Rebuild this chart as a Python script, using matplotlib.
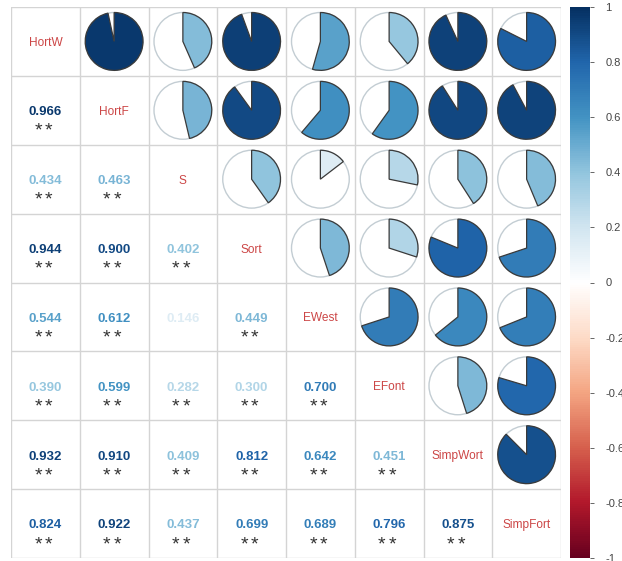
import numpy as np
import matplotlib
matplotlib.use("Agg")
import matplotlib.pyplot as plt
from matplotlib.colors import LinearSegmentedColormap, Normalize
from matplotlib.patches import Wedge, Circle
from matplotlib.cm import ScalarMappable

plt.rcParams["font.family"] = ["Liberation Sans", "DejaVu Sans"]

# variables
labels = ["HortW", "HortF", "S", "Sort", "EWest", "EFont", "SimpWort", "SimpFort"]

# lower triangle of the correlation matrix, row by row
r_hortf = [0.966]
r_s = [0.434, 0.463]
r_sort = [0.944, 0.900, 0.402]
r_ewest = [0.544, 0.612, 0.146, 0.449]
r_efont = [0.390, 0.599, 0.282, 0.300, 0.700]
r_simpwort = [0.932, 0.910, 0.409, 0.812, 0.642, 0.451]
r_simpfort = [0.824, 0.922, 0.437, 0.699, 0.689, 0.796, 0.875]
lower_rows = [[], r_hortf, r_s, r_sort, r_ewest, r_efont, r_simpwort, r_simpfort]

# significance marks for the same cells
sig_rows = [
    [],
    ["**"],
    ["**", "**"],
    ["**", "**", "**"],
    ["**", "**", "", "**"],
    ["**", "**", "**", "**", "**"],
    ["**", "**", "**", "**", "**", "**"],
    ["**", "**", "**", "**", "**", "**", "**"],
]

cbar_ticks = [-1, -0.8, -0.6, -0.4, -0.2, 0, 0.2, 0.4, 0.6, 0.8, 1]
cbar_labels = ["-1", "-0.8", "-0.6", "-0.4", "-0.2", "0", "0.2", "0.4", "0.6", "0.8", "1"]

n = len(labels)
corr = np.eye(n)
for i, row in enumerate(lower_rows):
    for j, v in enumerate(row):
        corr[i, j] = v
        corr[j, i] = v

# RdBu palette as used by corrplot
cmap = LinearSegmentedColormap.from_list(
    "corrRdBu",
    ["#67001F", "#B2182B", "#D6604D", "#F4A582", "#FDDBC7", "#FFFFFF",
     "#D1E5F0", "#92C5DE", "#4393C3", "#2166AC", "#053061"])
norm = Normalize(-1, 1)

W, H = 622, 561
fig = plt.figure(figsize=(W / 100, H / 100), dpi=100)
ax = fig.add_axes([11 / W, 1 - 558 / H, 550 / W, 551 / H])
ax.set_xlim(0, n)
ax.set_ylim(n, 0)
ax.axis("off")

grid_col = "#D4D4D4"
for k in range(n + 1):
    ax.plot([k, k], [0, n], color=grid_col, lw=1, zorder=1)
    ax.plot([0, n], [k, k], color=grid_col, lw=1, zorder=1)

rad = 0.42
for i in range(n):
    for j in range(n):
        cx, cy = j + 0.5, i + 0.5
        v = corr[i, j]
        if i == j:
            ax.text(cx, i + 0.565, labels[i], ha="center", va="baseline",
                    fontsize=8.6, color="#CC4646", zorder=3)
        elif j > i:
            # pie: filled share = |r|, clockwise from 12 o'clock
            col = cmap(norm(v))
            ax.add_patch(Circle((cx, cy), rad, facecolor="white",
                                edgecolor="#C3CDD3", lw=1.0, zorder=2))
            # y axis is inverted, so angles run the other way
            ax.add_patch(Wedge((cx, cy), rad, 270, 270 + 360 * abs(v),
                               facecolor=col, edgecolor="#3A3A3A",
                               lw=0.9, zorder=3))
        else:
            col = cmap(norm(v))
            ax.text(cx, i + 0.57, f"{v:.3f}", ha="center", va="baseline",
                    fontsize=9.5, fontweight="bold", color=col, zorder=3)
            # one star per significance level, spaced a little apart
            stars = sig_rows[i][j]
            for k in range(len(stars)):
                dx = (k - (len(stars) - 1) / 2) * 0.15
                ax.text(cx - 0.03 + dx, i + 0.87, "*", ha="center", va="baseline",
                        fontsize=14, color="#333333", zorder=3)

# colour legend
cax = fig.add_axes([570 / W, 1 - 558 / H, 20 / W, 551 / H])
cb = fig.colorbar(ScalarMappable(norm=norm, cmap=cmap), cax=cax)
cb.set_ticks(cbar_ticks)
cb.set_ticklabels(cbar_labels)
cb.outline.set_visible(False)
cax.tick_params(length=3, width=0.7, color="#666666", labelsize=8,
                labelcolor="#444444", pad=8)

fig.savefig("out.png", dpi=100, facecolor="white")
